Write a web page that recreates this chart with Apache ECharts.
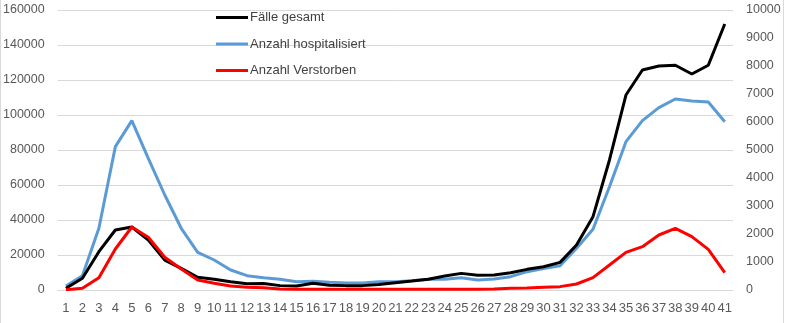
<!DOCTYPE html>
<html>
<head>
<meta charset="utf-8">
<script src="https://cdn.jsdelivr.net/npm/echarts@6/dist/echarts.min.js"></script>
<style>html,body{margin:0;padding:0;background:#fff}#c{width:785px;height:323px}</style>
</head>
<body>
<div id="c"></div>
<script>
const weeks = Array.from({length: 41}, (_, i) => String(i + 1));
const faelleGesamt = [970, 6700, 21900, 34300, 36000, 28600, 17100, 12400, 7300, 6100, 4700, 3600, 3700, 2500, 2300, 3800, 2700, 2500, 2500, 3200, 4200, 5100, 6100, 8000, 9500, 8400, 8600, 9900, 11800, 13300, 15800, 25700, 41900, 74300, 111400, 125700, 128000, 128400, 123400, 128400, 152000];
const hospitalisiert = [143, 511, 2204, 5119, 6048, 4704, 3393, 2204, 1345, 1071, 714, 512, 440, 380, 298, 310, 274, 250, 250, 298, 298, 333, 381, 381, 440, 357, 393, 476, 655, 770, 869, 1488, 2167, 3690, 5297, 6047, 6512, 6821, 6750, 6714, 6012];
const verstorben = [10, 60, 440, 1464, 2250, 1882, 1168, 750, 357, 240, 143, 96, 82, 36, 25, 25, 25, 25, 25, 25, 25, 25, 25, 25, 25, 25, 40, 60, 70, 95, 120, 214, 440, 893, 1345, 1548, 1964, 2202, 1905, 1452, 619];
const seriesNames = ['Fälle gesamt', 'Anzahl hospitalisiert', 'Anzahl Verstorben'];

const chart = echarts.init(document.getElementById('c'), null, {renderer: 'canvas'});
const font = 'Liberation Sans, Arial, sans-serif';
const plain = v => String(v);
chart.setOption({
  animation: false,
  backgroundColor: '#fff',
  grid: {left: 57, right: 52, top: 10, bottom: 33},
  legend: {
    orient: 'vertical', left: 211, top: 6, itemWidth: 32, itemHeight: 3, itemGap: 13.5,
    icon: 'rect',
    data: seriesNames,
    textStyle: {fontFamily: font, fontSize: 13, color: '#404040', padding: [0, 0, 0, -3]}
  },
  xAxis: {
    type: 'category', data: weeks, boundaryGap: true,
    axisLine: {lineStyle: {color: '#d9d9d9'}},
    axisTick: {show: false},
    axisLabel: {interval: 0, color: '#595959', fontFamily: font, fontSize: 13, margin: 12}
  },
  yAxis: [
    {type: 'value', min: 0, max: 160000, interval: 20000,
     axisLine: {show: false}, axisTick: {show: false},
     splitLine: {lineStyle: {color: '#d9d9d9'}},
     axisLabel: {color: '#595959', fontFamily: font, fontSize: 12.5, margin: 13, formatter: plain}},
    {type: 'value', min: 0, max: 10000, interval: 1000,
     axisLine: {show: false}, axisTick: {show: false},
     splitLine: {show: false},
     axisLabel: {color: '#595959', fontFamily: font, fontSize: 12.5, margin: 13, formatter: plain}}
  ],
  graphic: [
    {type: 'line', shape: {x1: 0.5, y1: 0, x2: 0.5, y2: 323}, style: {stroke: '#d9d9d9', lineWidth: 1}},
    {type: 'line', shape: {x1: 783.5, y1: 0, x2: 783.5, y2: 323}, style: {stroke: '#d9d9d9', lineWidth: 1}}
  ],
  series: [
    {name: seriesNames[0], type: 'line', yAxisIndex: 0, data: faelleGesamt, symbol: 'none',
     lineStyle: {color: '#000000', width: 3}, itemStyle: {color: '#000000'}, z: 3},
    {name: seriesNames[1], type: 'line', yAxisIndex: 1, data: hospitalisiert, symbol: 'none',
     lineStyle: {color: '#5B9BD5', width: 3}, itemStyle: {color: '#5B9BD5'}, z: 2},
    {name: seriesNames[2], type: 'line', yAxisIndex: 1, data: verstorben, symbol: 'none',
     lineStyle: {color: '#FF0000', width: 3}, itemStyle: {color: '#FF0000'}, z: 4}
  ]
});
</script>
</body>
</html>
